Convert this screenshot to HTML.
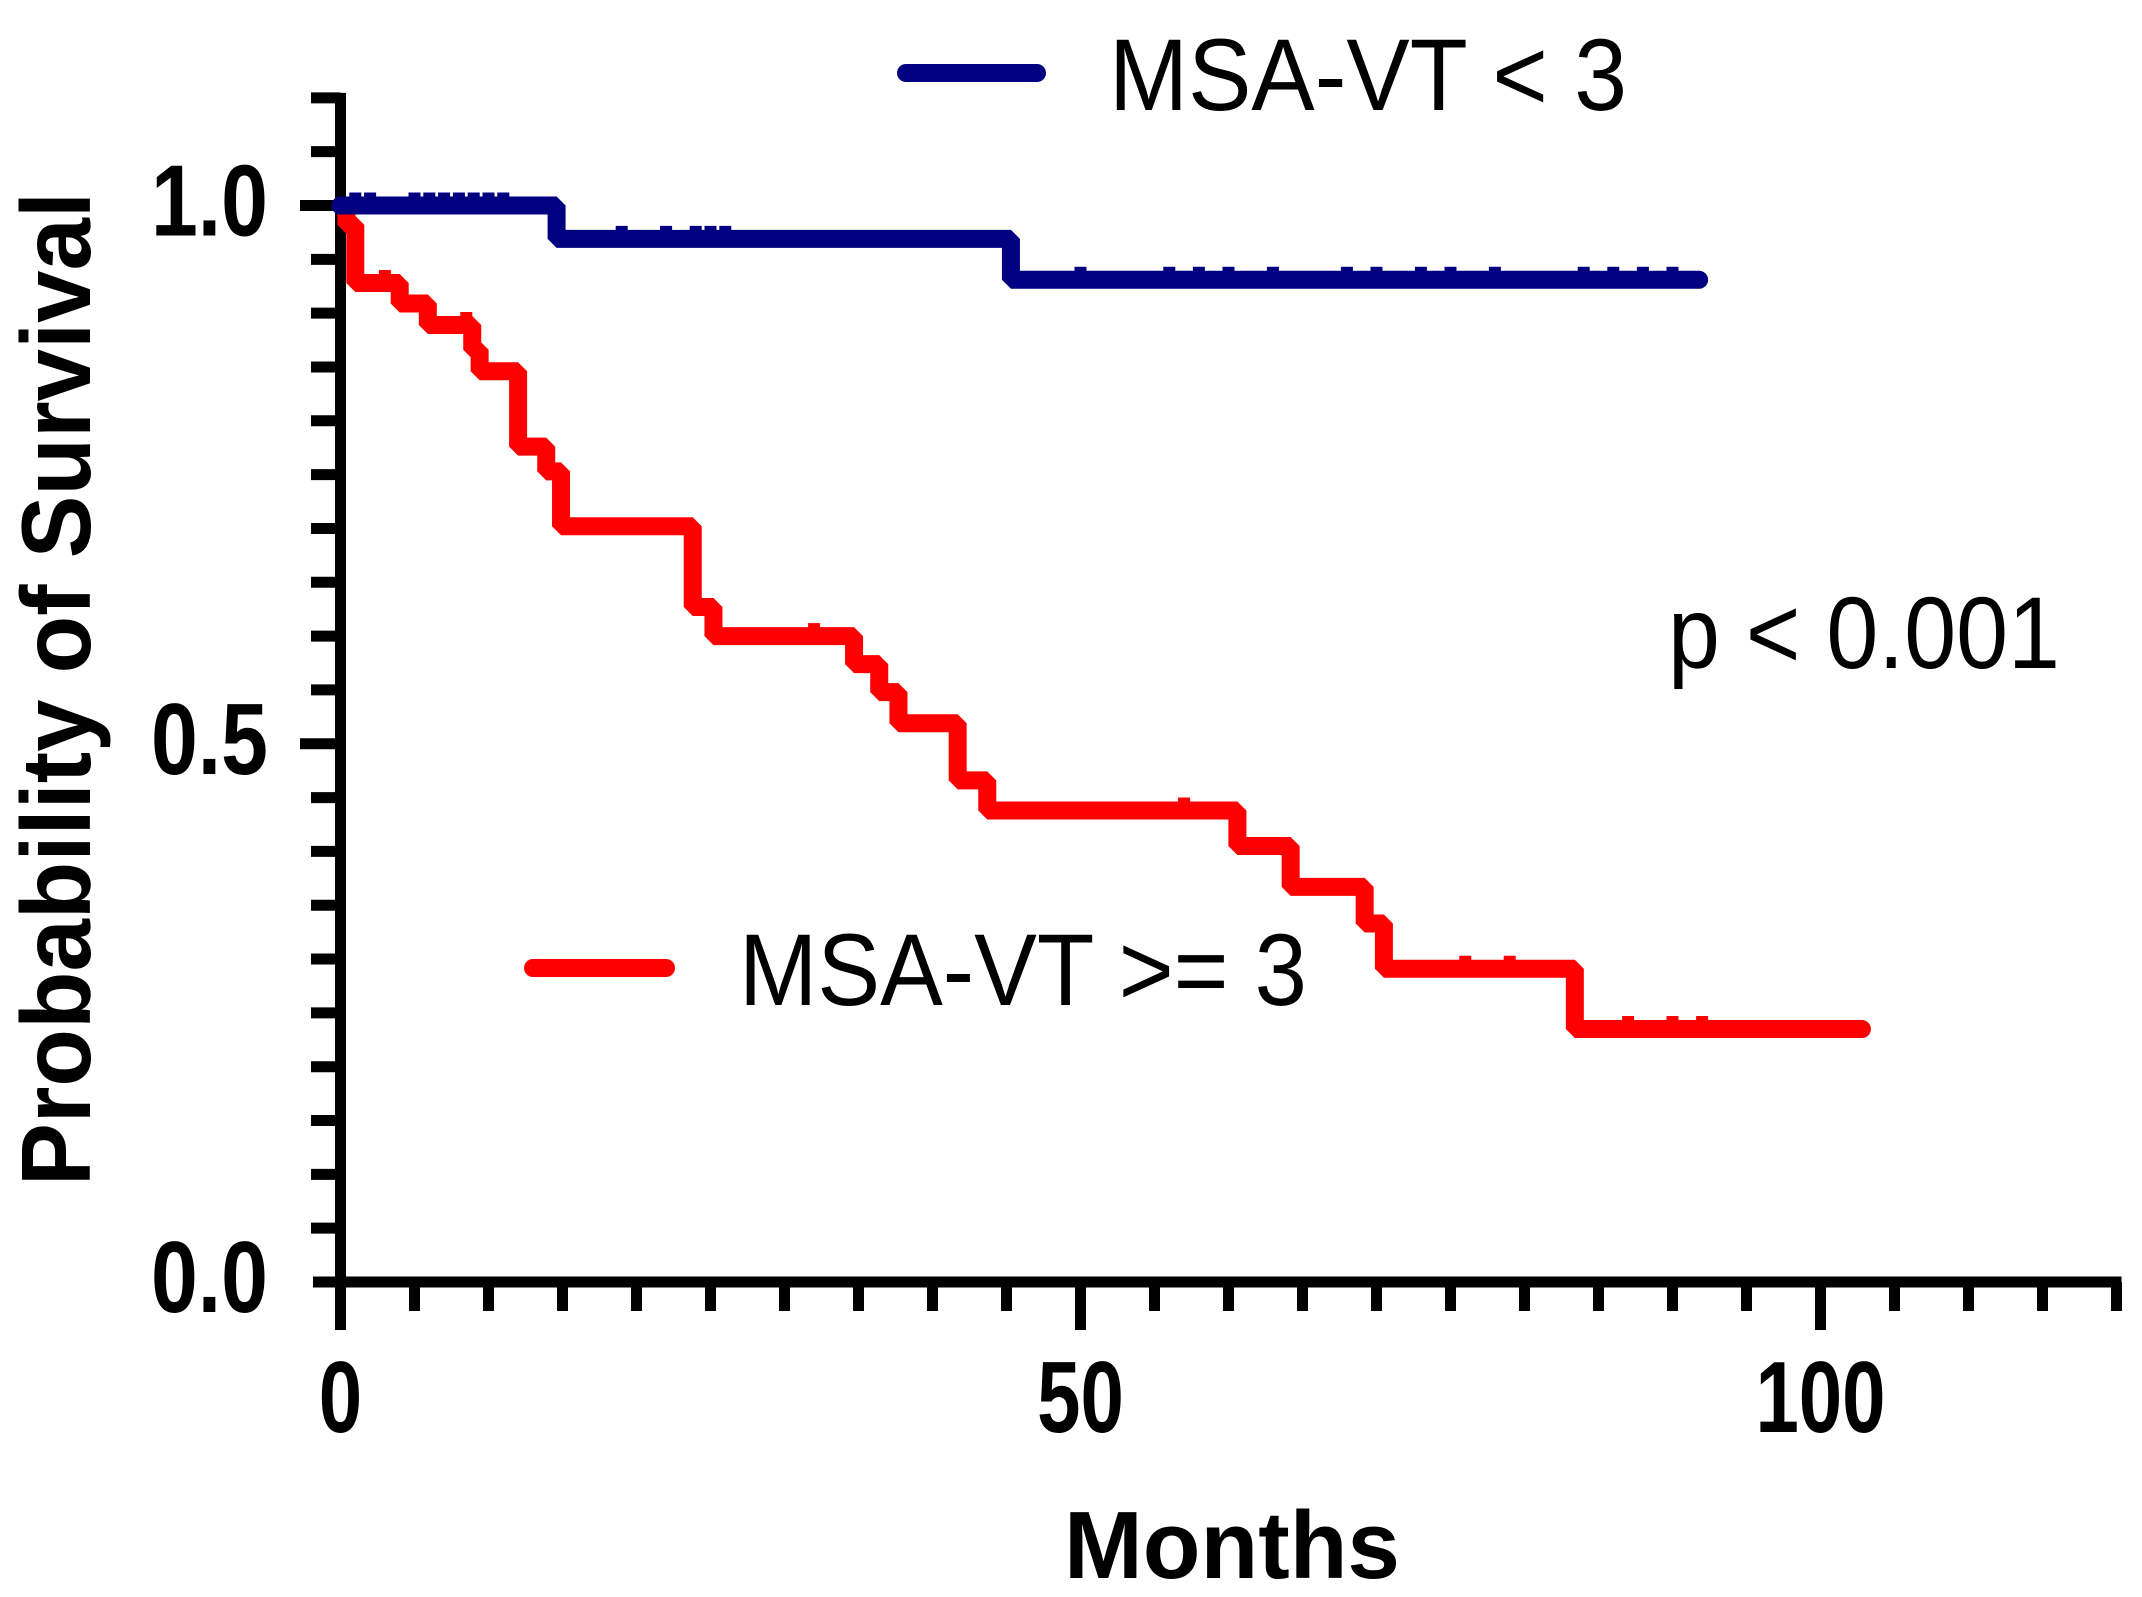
<!DOCTYPE html>
<html><head><meta charset="utf-8"><style>
html,body{margin:0;padding:0;background:#fff;}
svg{display:block;}
text{font-family:"Liberation Sans",Arial,sans-serif;}
</style></head><body>
<svg id="chart" width="2142" height="1597" viewBox="0 0 2142 1597" xmlns="http://www.w3.org/2000/svg">
<g id="axes"></g>
<g id="series"></g>
<text transform="translate(90,689) rotate(-90)" text-anchor="middle" font-size="98" font-weight="bold" textLength="994" lengthAdjust="spacingAndGlyphs">Probability of Survival</text>
<text x="1232" y="1578" text-anchor="middle" font-size="96" font-weight="bold" textLength="336" lengthAdjust="spacingAndGlyphs">Months</text>
<line x1="906" y1="73" x2="1037" y2="73" stroke="#000080" stroke-width="18" stroke-linecap="round"/>
<text x="1109" y="110" font-size="102" textLength="518" lengthAdjust="spacingAndGlyphs">MSA-VT &lt; 3</text>
<line x1="533" y1="968" x2="666" y2="968" stroke="#ff0000" stroke-width="18" stroke-linecap="round"/>
<text x="739" y="1005" font-size="102" textLength="568" lengthAdjust="spacingAndGlyphs">MSA-VT &gt;= 3</text>
<text x="1668" y="668" font-size="102" textLength="392" lengthAdjust="spacingAndGlyphs">p &lt; 0.001</text>
</svg>
<script>
const blueTimes = [0, 14.6, 45.3, 91.8];
const blueSurv = [1.0, 0.969, 0.931, 0.931];
const blueCensor = [1, 2, 5, 6, 7, 8, 9, 10, 11, 19, 22, 24, 25, 26, 50, 56, 58, 60, 63, 68, 70, 73, 75, 78, 84, 86, 88, 90];
const redTimes = [0, 0.4, 1.0, 4.0, 5.9, 8.9, 9.4, 12.0, 13.9, 14.9, 23.8, 25.2, 34.7, 36.4, 37.7, 41.7, 43.7, 60.6, 64.2, 69.2, 70.5, 83.4, 102.8];
const redSurv = [1.0, 0.982, 0.928, 0.909, 0.889, 0.866, 0.846, 0.776, 0.753, 0.702, 0.627, 0.600, 0.574, 0.548, 0.519, 0.466, 0.438, 0.405, 0.367, 0.333, 0.291, 0.235, 0.235];
const redCensor = [3, 8.5, 32, 57, 76, 79, 87, 90, 92];
const xTickLabels = [0, 50, 100];
const yTickLabels = ["0.0", "0.5", "1.0"];
const yTickValues = [0, 0.5, 1.0];

const X0 = 340.5, PXM = 14.80, Y0 = 1282, PXU = 1076.5;
function xs(m){ return X0 + m * PXM; }
function ys(v){ return Y0 - v * PXU; }
const NS = "http://www.w3.org/2000/svg";
const axes = document.getElementById('axes');
const series = document.getElementById('series');
function mk(tag, attrs, parent){
  const e = document.createElementNS(NS, tag);
  for (const k in attrs) e.setAttribute(k, attrs[k]);
  parent.appendChild(e);
  return e;
}
let a = mk('line', {x1: xs(0), y1: ys(1.1) - 5, x2: xs(0), y2: 1330, stroke: '#000', 'stroke-width': 11}, axes);


a = mk('line', {x1: 313, y1: Y0, x2: xs(120) + 5, y2: Y0, stroke: '#000', 'stroke-width': 11}, axes);


for (let i = 1; i <= 22; i++) {
  const v = i * 0.05;
  const major = (i % 10 === 0);
  const t = mk('line', {x1: major ? 300 : 311, y1: ys(v), x2: xs(0), y2: ys(v), stroke: '#000', 'stroke-width': 11}, axes);
  
  
}
for (let i = 1; i <= 24; i++) {
  const m = i * 5;
  const major = (m % 50 === 0);
  const t = mk('line', {x1: xs(m), y1: Y0, x2: xs(m), y2: major ? 1330 : 1311, stroke: '#000', 'stroke-width': 11}, axes);
  
  
}
yTickValues.forEach((v, i) => {
  const t = mk('text', {x: 268, y: ys(v) + 30, 'text-anchor': 'end', 'font-size': 78, 'font-weight': 'bold', transform: 'translate(0,' + (ys(v)*-0.3+9) + ') scale(1,1.3)'}, axes);
  t.setAttribute('transform', 'translate(268,' + (ys(v) + 30) + ') scale(1,1.3)');
  t.setAttribute('x', 0);
  t.setAttribute('y', 0);
  t.setAttribute('textLength', 117);
  t.setAttribute('lengthAdjust', 'spacingAndGlyphs');
  t.textContent = yTickLabels[i];
  
  
});
xTickLabels.forEach(m => {
  const t = mk('text', {x: 0, y: 0, 'text-anchor': 'middle', 'font-size': 78, 'font-weight': 'bold'}, axes);
  t.setAttribute('transform', 'translate(' + xs(m) + ',1432) scale(1,1.3)');
  t.textContent = String(m);
  
  
});
function stepPath(times, surv){
  let d = 'M' + xs(times[0]) + ' ' + ys(surv[0]);
  for (let i = 1; i < times.length; i++) {
    d += ' H' + xs(times[i]) + ' V' + ys(surv[i]);
  }
  return d;
}
function survAt(times, surv, m){
  let v = surv[0];
  for (let i = 0; i < times.length; i++) if (times[i] <= m) v = surv[i];
  return v;
}
function drawSeries(times, surv, censor, color, name){
  const p = mk('path', {d: stepPath(times, surv), fill: 'none', stroke: color, 'stroke-width': 18, 'stroke-linejoin': 'bevel', 'stroke-linecap': 'round'}, series);
  
  
  censor.forEach(m => {
    const v = survAt(times, surv, m);
    const c = mk('rect', {x: xs(m) - 6, y: ys(v) - 13, width: 12, height: 8, fill: color}, series);
    
    
  });
}
drawSeries(redTimes, redSurv, redCensor, '#ff0000', 'msa-vt-high');
drawSeries(blueTimes, blueSurv, blueCensor, '#000080', 'msa-vt-low');
</script>
</body></html>
